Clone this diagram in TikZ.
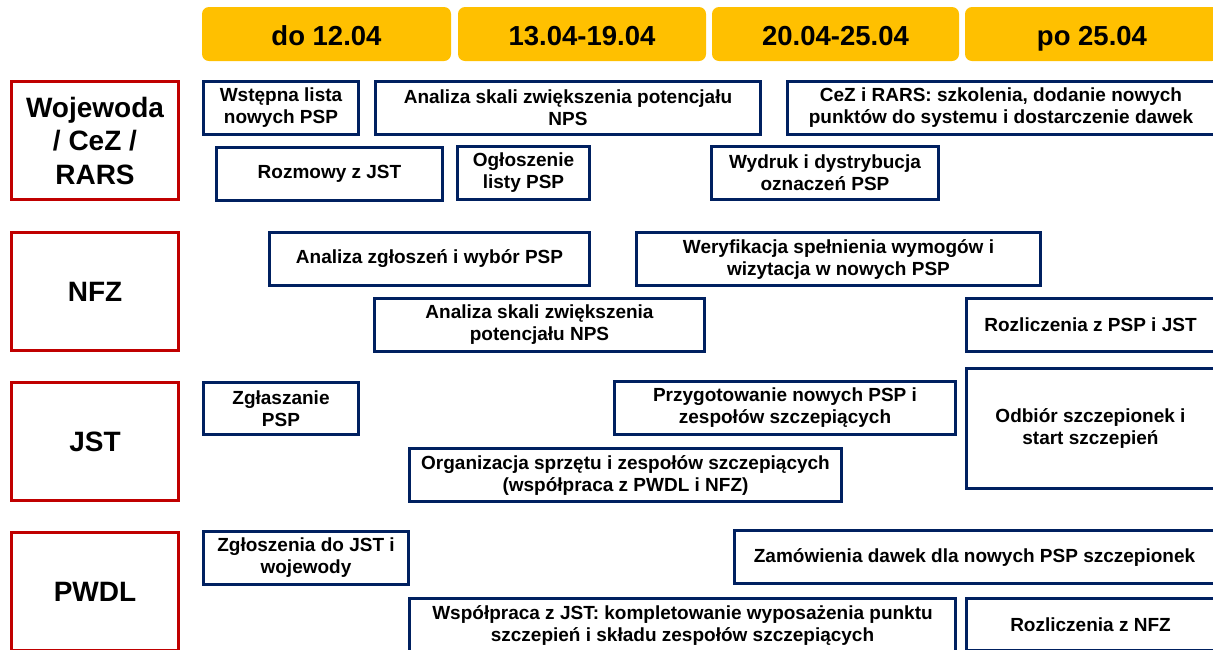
\documentclass[tikz,border=0pt]{standalone}
\usepackage{fontspec}
\setmainfont{Liberation Sans}
\definecolor{hdr}{HTML}{FFC000}
\definecolor{lred}{HTML}{C00000}
\definecolor{navy}{HTML}{002060}
\tikzset{
  hdrbox/.style={fill=hdr, rounded corners=7pt, inner sep=0pt, align=center,
    text height=22pt, text depth=0pt,
    font=\fontsize{27.5}{33}\selectfont\bfseries},
  rowbox/.style={draw=lred, line width=3pt, fill=white, inner sep=0pt, align=center,
    font=\fontsize{28}{33.5}\selectfont\bfseries},
  taskbox/.style={draw=navy, line width=3pt, fill=white, inner sep=0pt, align=center,
    font=\fontsize{19}{22}\selectfont\bfseries}
}
% style, name, x1, y1, x2, y2, text  (outer pixel extents)
\newcommand{\tbox}[7]{\node[#1, minimum width={#5-#3-3}, minimum height={#6-#4-3}] (#2) at ({(#3+#5)/2},{(#4+#6)/2}) {#7};}
\begin{document}
\begin{tikzpicture}[x=1pt,y=-1pt]
\useasboundingbox (0,0) rectangle (1213,649);
\clip (0,0) rectangle (1213,649);
% headers
\node[hdrbox, minimum width=249pt, minimum height=54pt] (h1) at (326.5,34) {do 12.04};
\node[hdrbox, minimum width=248pt, minimum height=54pt] (h2) at (582,34) {13.04-19.04};
\node[hdrbox, minimum width=247pt, minimum height=54pt] (h3) at (835.5,34) {20.04-25.04};
\node[hdrbox, minimum width=254pt, minimum height=54pt] (h4) at (1092,34) {po 25.04};
% row labels
\tbox{rowbox}{r1}{10}{80}{180}{201}{Wojewoda\\/ CeZ /\\RARS}
\tbox{rowbox}{r2}{10}{231}{180}{352}{NFZ}
\tbox{rowbox}{r3}{10}{381}{180}{502}{JST}
\tbox{rowbox}{r4}{10}{531}{180}{652}{PWDL}
% Wojewoda row
\tbox{taskbox}{a1}{202}{80}{360}{136}{Wstępna lista\\nowych PSP}
\tbox{taskbox}{a2}{374}{80}{762}{136}{Analiza skali zwiększenia potencjału\\NPS}
\tbox{taskbox}{a3}{786}{80}{1216}{136}{CeZ i RARS: szkolenia, dodanie nowych\\punktów do systemu i dostarczenie dawek}
\tbox{taskbox}{a4}{215}{146}{444}{202}{Rozmowy z JST}
\tbox{taskbox}{a5}{456}{145}{591}{201}{Ogłoszenie\\listy PSP}
\tbox{taskbox}{a6}{710}{145}{940}{201}{Wydruk i dystrybucja\\oznaczeń PSP}
% NFZ row
\tbox{taskbox}{b1}{268}{231}{591}{287}{Analiza zgłoszeń i wybór PSP}
\tbox{taskbox}{b2}{635}{231}{1042}{287}{Weryfikacja spełnienia wymogów i\\wizytacja w nowych PSP}
\tbox{taskbox}{b3}{373}{297}{706}{353}{Analiza skali zwiększenia\\potencjału NPS}
\tbox{taskbox}{b4}{965}{297}{1216}{353}{Rozliczenia z PSP i JST}
% JST row
\tbox{taskbox}{c1}{202}{381}{360}{436}{Zgłaszanie\\PSP}
\tbox{taskbox}{c2}{613}{380}{957}{436}{Przygotowanie nowych PSP i\\zespołów szczepiących}
\tbox{taskbox}{c3}{965}{367}{1216}{490}{Odbiór szczepionek i\\start szczepień}
\tbox{taskbox}{c4}{408}{447}{843}{503}{Organizacja sprzętu i zespołów szczepiących\\(współpraca z PWDL i NFZ)}
% PWDL row
\tbox{taskbox}{d1}{202}{530}{410}{586}{Zgłoszenia do JST i\\wojewody}
\tbox{taskbox}{d2}{733}{529}{1216}{585}{Zamówienia dawek dla nowych PSP szczepionek}
\tbox{taskbox}{d3}{408}{597}{957}{653}{Współpraca z JST: kompletowanie wyposażenia punktu\\szczepień i składu zespołów szczepiących}
\tbox{taskbox}{d4}{965}{597}{1216}{652}{Rozliczenia z NFZ}
\end{tikzpicture}
\end{document}
